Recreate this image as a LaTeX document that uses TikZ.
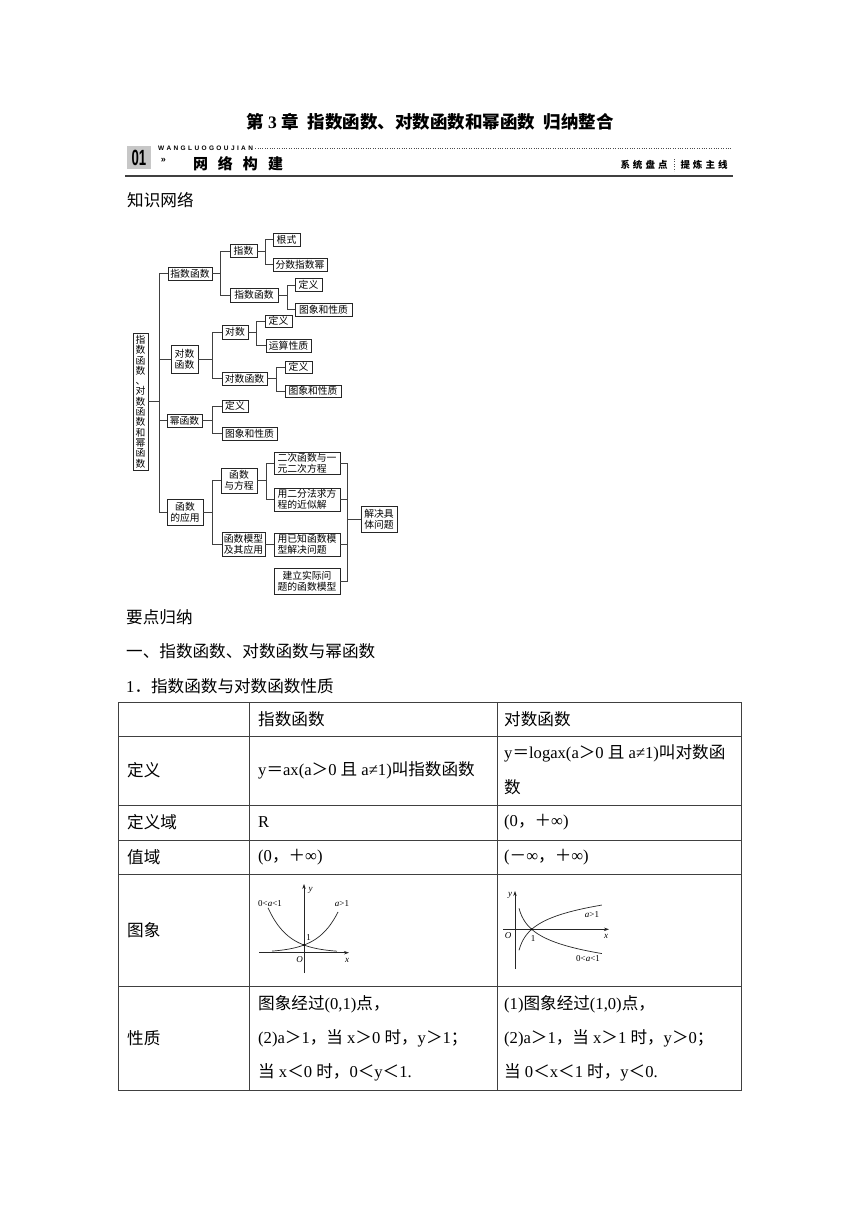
\documentclass[tikz,border=0pt]{standalone}
\usepackage{fontspec}
\setmainfont{Liberation Serif}
\newfontfamily\cjk{Noto Sans CJK SC}
\newfontfamily\sanslat{Liberation Sans}
\newcommand\zh[1]{{\cjk #1}}
\usetikzlibrary{arrows.meta}
\begin{document}
\begin{tikzpicture}[x=1pt,y=-1pt,
  tb/.style={draw=black!85, line width=0.75pt, fill=white, inner sep=1pt, align=center,
    font=\cjk\fontsize{9.8}{11}\selectfont},
  tbl/.style={tb, align=left},
  ln/.style={draw=black!75, line width=0.7pt},
  body/.style={anchor=west, inner sep=0pt, font=\fontsize{16.6}{19}\selectfont},
  tl/.style={draw=black!75, line width=0.8pt},
  ax/.style={draw=black!85, line width=0.6pt, -{Stealth[length=5pt,width=3.4pt]}},
  cv/.style={draw=black!85, line width=0.7pt},
  gl/.style={inner sep=0pt, font=\fontsize{9}{10}\selectfont},
  dots/.style={draw=black!70, line width=0.6pt, dash pattern=on 1pt off 1.4pt}
]
\useasboundingbox (0,0) rectangle (860,1216);
\fill[white] (0,0) rectangle (860,1216);

% ---------- title ----------
\node[inner sep=0pt, font=\bfseries\fontsize{17.5}{19}\selectfont] (title) at (430,122)
  {\zh{第}\ 3\ \zh{章}\ \ \zh{指数函数、对数函数和幂函数}\ \ \zh{归纳整合}};

% ---------- header bar ----------
\node[fill=black!22, minimum width=24, minimum height=23, inner sep=0pt,
  font=\sanslat\bfseries\fontsize{22}{22}\selectfont] (num) at (139,157.5) {\scalebox{0.6}[1]{01}};
\node[inner sep=0pt, font=\sanslat\bfseries\fontsize{6.5}{7}\selectfont] (wl) at (205.5,148.5)
  {\makebox[95pt][s]{W\hfill A\hfill N\hfill G\hfill L\hfill U\hfill O\hfill G\hfill O\hfill U\hfill J\hfill I\hfill A\hfill N}};
\coordinate (dend) at (732,148.5);
\draw[dots] ([xshift=2pt]wl.east) -- (dend);
\node[inner sep=0pt, font=\sanslat\bfseries\fontsize{9}{10}\selectfont] (chev) at (163.5,160) {»};
\node[inner sep=0pt, font=\cjk\bfseries\fontsize{15}{16}\selectfont] (wljj) at (238,163.5)
  {网\hspace{10pt}络\hspace{10pt}构\hspace{10pt}建};
\node[inner sep=0pt, font=\cjk\bfseries\fontsize{9.5}{10}\selectfont] (xt) at (644,165)
  {系\hspace{3pt}统\hspace{3pt}盘\hspace{3pt}点};
\node[inner sep=0pt, font=\cjk\bfseries\fontsize{9.5}{10}\selectfont] (tl2) at (704,165)
  {提\hspace{3pt}炼\hspace{3pt}主\hspace{3pt}线};
\coordinate (sepT) at (674,159); \coordinate (sepB) at (674,171);
\draw[dots] (sepT) -- (sepB);
\coordinate (ruleL) at (125,176); \coordinate (ruleR) at (733,176);
\draw[line width=1.3pt, black!75] (ruleL) -- (ruleR);

\node[body] (zswl) at (127,200) {\zh{知识网络}};

% ---------- tree ----------
\node[tb, minimum width=15, minimum height=137, font=\cjk\fontsize{9.8}{10.3}\selectfont] (root) at (140.5,401.5)
  {指\\数\\函\\数\\、\\对\\数\\函\\数\\和\\幂\\函\\数};
\node[tb, minimum width=44, minimum height=13] (A1) at (190,273.5) {指数函数};
\node[tb, minimum width=27, minimum height=13] (A2) at (243.5,251) {指数};
\node[tb, minimum width=27, minimum height=13] (A21) at (286.5,239.5) {根式};
\node[tb, minimum width=54, minimum height=13] (A22) at (300,264.5) {分数指数幂};
\node[tb, minimum width=48, minimum height=14] (A3) at (254,295) {指数函数};
\node[tb, minimum width=27, minimum height=13] (A31) at (308.5,285) {定义};
\node[tb, minimum width=57, minimum height=13] (A32) at (323.5,309.5) {图象和性质};
\node[tb, minimum width=27, minimum height=28] (B1) at (184.5,359) {对数\\函数};
\node[tb, minimum width=26, minimum height=14] (B2) at (235,332) {对数};
\node[tb, minimum width=27, minimum height=12] (B21) at (278.5,321) {定义};
\node[tb, minimum width=45, minimum height=13] (B22) at (288.5,345.5) {运算性质};
\node[tb, minimum width=45, minimum height=13] (B3) at (244.5,378.5) {对数函数};
\node[tb, minimum width=27, minimum height=12] (B31) at (298.5,367) {定义};
\node[tb, minimum width=56, minimum height=12] (B32) at (313,391) {图象和性质};
\node[tb, minimum width=35, minimum height=13] (C1) at (184.5,420.5) {幂函数};
\node[tb, minimum width=26, minimum height=12] (C2) at (235,406) {定义};
\node[tb, minimum width=55, minimum height=13] (C3) at (249.5,433.5) {图象和性质};
\node[tb, minimum width=36, minimum height=26] (D1) at (185,512) {函数\\的应用};
\node[tb, minimum width=36, minimum height=25] (D2) at (239,480.5) {函数\\与方程};
\node[tbl, minimum width=66, minimum height=22] (D21) at (307,463) {二次函数与一\\元二次方程};
\node[tbl, minimum width=66, minimum height=23] (D22) at (307,499.5) {用二分法求方\\程的近似解};
\node[tb, minimum width=43, minimum height=24] (D3) at (243.5,544.5) {函数模型\\及其应用};
\node[tbl, minimum width=66, minimum height=23] (D31) at (307,544.5) {用已知函数模\\型解决问题};
\node[tb, minimum width=66, minimum height=26] (D32) at (307,581) {建立实际问\\题的函数模型};
\node[tb, minimum width=36, minimum height=26] (E) at (379,519) {解决具\\体问题};

\coordinate (jR) at (159,401.5);
\draw[ln] (root.east) -- (jR);
\draw[ln] (A1) -| (jR);
\draw[ln] (B1) -| (jR);
\draw[ln] (C1) -| (jR);
\draw[ln] (D1) -| (jR);

\coordinate (jA) at (220,273.5);
\draw[ln] (A1) -- (jA); \draw[ln] (A2) -| (jA); \draw[ln] (A3) -| (jA);
\coordinate (jA2) at (265.7,251);
\draw[ln] (A2) -- (jA2); \draw[ln] (A21) -| (jA2); \draw[ln] (A22) -| (jA2);
\coordinate (jA3) at (287,295);
\draw[ln] (A3) -- (jA3); \draw[ln] (A31) -| (jA3); \draw[ln] (A32) -| (jA3);

\coordinate (jB) at (212.7,359);
\draw[ln] (B1) -- (jB); \draw[ln] (B2) -| (jB); \draw[ln] (B3) -| (jB);
\coordinate (jB2) at (256.7,332);
\draw[ln] (B2) -- (jB2); \draw[ln] (B21) -| (jB2); \draw[ln] (B22) -| (jB2);
\coordinate (jB3) at (276.7,378.5);
\draw[ln] (B3) -- (jB3); \draw[ln] (B31) -| (jB3); \draw[ln] (B32) -| (jB3);

\coordinate (jC) at (212.7,420.5);
\draw[ln] (C1) -- (jC); \draw[ln] (C2) -| (jC); \draw[ln] (C3) -| (jC);

\coordinate (jD) at (212.7,512);
\draw[ln] (D1) -- (jD); \draw[ln] (D2) -| (jD); \draw[ln] (D3) -| (jD);
\coordinate (jD2) at (266.7,480.5);
\draw[ln] (D2) -- (jD2); \draw[ln] (D21) -| (jD2); \draw[ln] (D22) -| (jD2);
\draw[ln] (D3) -- (D31);

\coordinate (jE) at (347.7,519);
\draw[ln] (D21) -| (jE); \draw[ln] (D22) -| (jE); \draw[ln] (D31) -| (jE); \draw[ln] (D32) -| (jE);
\draw[ln] (jE) -- (E);

% ---------- headings ----------
\node[body] (ydgn) at (126,617) {\zh{要点归纳}};
\node[body] (h1) at (126,651) {\zh{一、指数函数、对数函数与幂函数}};
\node[body] (h2) at (126,686) {1\zh{．指数函数与对数函数性质}};

% ---------- table ----------
\draw[tl] (118,702) rectangle (741,1090);
\foreach \yy in {736,805,840,874,986} \draw[tl] (118,\yy) -- (741,\yy);
\foreach \xx in {249,497} \draw[tl] (\xx,702) -- (\xx,1090);

\node[body] (c01) at (258,719) {\zh{指数函数}};
\node[body] (c02) at (504,719) {\zh{对数函数}};

\node[body] (c10) at (127,770) {\zh{定义}};
\node[body] (c11) at (258,770) {y\zh{＝}ax(a\zh{＞}0 \zh{且} a≠1)\zh{叫指数函数}};
\node[body] (c12a) at (504,753) {y\zh{＝}logax(a\zh{＞}0 \zh{且} a≠1)\zh{叫对数函}};
\node[body] (c12b) at (504,787) {\zh{数}};

\node[body] (c20) at (127,822) {\zh{定义域}};
\node[body] (c21) at (258,822) {R};
\node[body] (c22) at (504,822) {(0\zh{，＋}∞)};

\node[body] (c30) at (127,857) {\zh{值域}};
\node[body] (c31) at (258,857) {(0\zh{，＋}∞)};
\node[body] (c32) at (504,857) {(\zh{－}∞\zh{，＋}∞)};

\node[body] (c40) at (127,930) {\zh{图象}};

\node[body] (c50) at (127,1038) {\zh{性质}};
\node[body] (c51a) at (258,1004) {\zh{图象经过}(0,1)\zh{点，}};
\node[body] (c51b) at (258,1038) {(2)a\zh{＞}1\zh{，当} x\zh{＞}0 \zh{时，}y\zh{＞}1\zh{；}};
\node[body] (c51c) at (258,1072) {\zh{当} x\zh{＜}0 \zh{时，}0\zh{＜}y\zh{＜}1.};
\node[body] (c52a) at (504,1004) {(1)\zh{图象经过}(1,0)\zh{点，}};
\node[body] (c52b) at (504,1038) {(2)a\zh{＞}1\zh{，当} x\zh{＞}1 \zh{时，}y\zh{＞}0\zh{；}};
\node[body] (c52c) at (504,1072) {\zh{当} 0\zh{＜}x\zh{＜}1 \zh{时，}y\zh{＜}0.};

% ---------- graph: exponential ----------
\draw[ax] (259,952.7) -- (349,952.7);
\draw[ax] (304,973) -- (304,884);
\draw[cv] plot[domain=-32:34, samples=60] ({304+\x},{952.7-7.7*exp(0.049*\x)});
\draw[cv] plot[domain=-36:33, samples=60] ({304+\x},{952.7-7.7*exp(-0.049*\x)});
\fill[black] (304,945) circle (1.1);
\node[gl, font=\itshape\fontsize{9}{10}\selectfont] (ey) at (310.5,890) {y};
\node[gl, font=\itshape\fontsize{9}{10}\selectfont] (ex) at (347,960.5) {x};
\node[gl, font=\itshape\fontsize{9}{10}\selectfont] (eO) at (299.5,959.5) {O};
\node[gl] (e1) at (308.5,937.5) {1};
\node[gl] (ea) at (270,904) {0<\textit{a}<1};
\node[gl] (eb) at (342,904) {\textit{a}>1};

% ---------- graph: logarithm ----------
\draw[ax] (503,929.3) -- (609,929.3);
\draw[ax] (515,969) -- (515,891);
\draw[cv] plot[domain=0.24:5.2, samples=60] ({515+16.7*\x},{929.3-14.7*ln(\x)});
\draw[cv] plot[domain=0.24:5.2, samples=60] ({515+16.7*\x},{929.3+14.7*ln(\x)});
\fill[black] (531.7,929.3) circle (1.1);
\node[gl, font=\itshape\fontsize{9}{10}\selectfont] (ly) at (510,895) {y};
\node[gl, font=\itshape\fontsize{9}{10}\selectfont] (lx) at (606,936.5) {x};
\node[gl, font=\itshape\fontsize{9}{10}\selectfont] (lO) at (508,935.5) {O};
\node[gl] (l1) at (533,938.5) {1};
\node[gl] (la) at (592,915) {\textit{a}>1};
\node[gl] (lb) at (588,959) {0<\textit{a}<1};
\end{tikzpicture}
\end{document}
